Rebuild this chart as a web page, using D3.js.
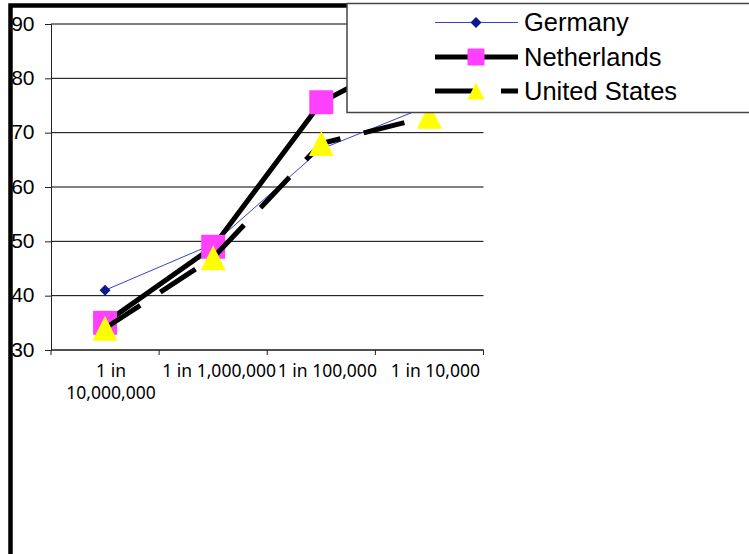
<!DOCTYPE html>
<html>
<head>
<meta charset="utf-8">
<script src="https://cdn.jsdelivr.net/npm/d3@7"></script>
<style>
  body { margin: 0; background: #fff; }
  svg { display: block; }
</style>
</head>
<body>
<div id="chart"></div>
<script>
// data
var categories = ["1 in 10,000,000", "1 in 1,000,000", "1 in 100,000", "1 in 10,000"];
var germany = [41, 49.5, 67, 75];
var netherlands = [35, 49, 75.6, 86];
var unitedStates = [34, 47, 68, 73];
var yTicks = [30, 40, 50, 60, 70, 80, 90];
var seriesNames = ["Germany", "Netherlands", "United States"];

var W = 749, H = 554;
var svg = d3.select("#chart").append("svg").attr("width", W).attr("height", H);

var x = d3.scaleBand().domain(categories).range([51, 483.5]).padding(0);
var y = d3.scaleLinear().domain([30, 90]).range([350, 24]);
var cx = function(i) { return x(categories[i]) + x.bandwidth() / 2; };

// outer thick frame (only left + top show)
svg.append("rect").attr("x", 10.5).attr("y", 5.5).attr("width", 900).attr("height", 700)
  .style("fill", "none").style("stroke", "#000").style("stroke-width", 4.5);

// gridlines
svg.append("g").selectAll("line").data(yTicks).enter().append("line")
  .attr("x1", 51).attr("x2", 483.5)
  .attr("y1", function(d) { return y(d); }).attr("y2", function(d) { return y(d); })
  .style("stroke", "#000").style("stroke-width", 1);

// y axis
var yAxis = svg.append("g").attr("transform", "translate(51,0)")
  .call(d3.axisLeft(y).tickValues(yTicks).tickSize(6).tickPadding(10).tickFormat(d3.format("d")));
yAxis.select(".domain").style("stroke", "#222");
yAxis.selectAll(".tick line").style("stroke", "#222");
yAxis.selectAll("text").attr("x", -16.5).attr("dy", "6px").attr("dominant-baseline", "auto")
  .style("font-family", "Liberation Sans, Arial, sans-serif").style("font-size", "21px").style("fill", "#000");

// x axis: line, ticks at category boundaries, labels under centres
svg.append("line").attr("x1", 51).attr("x2", 483.5).attr("y1", 350).attr("y2", 350).style("stroke", "#222");
var bounds = categories.map(function(c) { return x(c); }).concat([x.range()[1]]);
svg.append("g").selectAll("line").data(bounds).enter().append("line")
  .attr("x1", function(d) { return d; }).attr("x2", function(d) { return d; })
  .attr("y1", 350).attr("y2", 355).style("stroke", "#222");

var xl = svg.append("g").selectAll("text").data(categories).enter().append("text")
  .attr("x", function(d, i) { return cx(i) + 6; }).attr("y", 377)
  .attr("text-anchor", "middle")
  .style("font-family", "'Noto Sans', sans-serif").style("font-size", "17.5px").style("fill", "#000")
  .text(function(d) { return d; });

// wrap only labels clearly wider than a category (the others just overflow, as in the original)
var maxW = x.bandwidth() * 1.06;
xl.each(function(d, i) {
  var t = d3.select(this);
  if (this.getComputedTextLength() <= maxW) return;
  var words = d.split(" "), line = [], lines = [];
  t.text(null);
  words.forEach(function(w) {
    var test = line.concat([w]).join(" ");
    t.text(test);
    if (this.getComputedTextLength() > x.bandwidth() && line.length) { lines.push(line.join(" ")); line = [w]; }
    else line.push(w);
  }, this);
  lines.push(line.join(" "));
  t.text(null);
  lines.forEach(function(l, k) {
    t.append("tspan").attr("x", cx(i) + 6).attr("dy", k == 0 ? 0 : 22).text(l);
  });
});

// marker shapes
function marker(type, s) {
  var h = s / 2;
  if (type == "diamond") return "M0," + (-h) + "L" + h + ",0L0," + h + "L" + (-h) + ",0Z";
  if (type == "square") return "M" + (-h) + "," + (-h) + "h" + s + "v" + s + "h" + (-s) + "Z";
  return "M0," + (-h) + "L" + h + "," + h + "L" + (-h) + "," + h + "Z";
}

var series = [
  { name: seriesNames[0], values: germany, stroke: "#3344cc", width: 1, dash: null, type: "diamond", fill: "#0a1a8c", size: 11, lsize: 11 },
  { name: seriesNames[1], values: netherlands, stroke: "#000", width: 5, dash: null, type: "square", fill: "#ff40ff", size: 24, lsize: 17 },
  { name: seriesNames[2], values: unitedStates, stroke: "#000", width: 5, dash: "42,24", type: "triangle", fill: "#ffff00", size: 25, lsize: 17 }
];

var line = d3.line().x(function(d, i) { return cx(i); }).y(function(d) { return y(d); });

series.forEach(function(s) {
  svg.append("path").datum(s.values).attr("d", line)
    .style("fill", "none").style("stroke", s.stroke).style("stroke-width", s.width)
    .style("stroke-dasharray", s.dash);
  svg.append("g").selectAll("path").data(s.values).enter().append("path")
    .attr("transform", function(d, i) { return "translate(" + cx(i) + "," + y(d) + ")"; })
    .attr("d", marker(s.type, s.size)).style("fill", s.fill);
});

// legend
var lg = svg.append("g");
lg.append("rect").attr("x", 347).attr("y", 3.5).attr("width", 420).attr("height", 109)
  .style("fill", "#fff").style("stroke", "#444").style("stroke-width", 1.5);
var rowY = [22.5, 57, 91];
series.forEach(function(s, i) {
  var g = lg.append("g").attr("transform", "translate(0," + rowY[i] + ")");
  g.append("line").attr("x1", 435).attr("x2", 518).attr("y1", 0).attr("y2", 0)
    .style("stroke", s.stroke).style("stroke-width", s.width).style("stroke-dasharray", s.dash);
  g.append("path").attr("transform", "translate(476,0)").attr("d", marker(s.type, s.lsize)).style("fill", s.fill);
  g.append("text").attr("x", 524).attr("y", 8.5)
    .style("font-family", "Liberation Sans, Arial, sans-serif").style("font-size", "25.5px").style("fill", "#000")
    .text(s.name);
});
</script>
</body>
</html>
